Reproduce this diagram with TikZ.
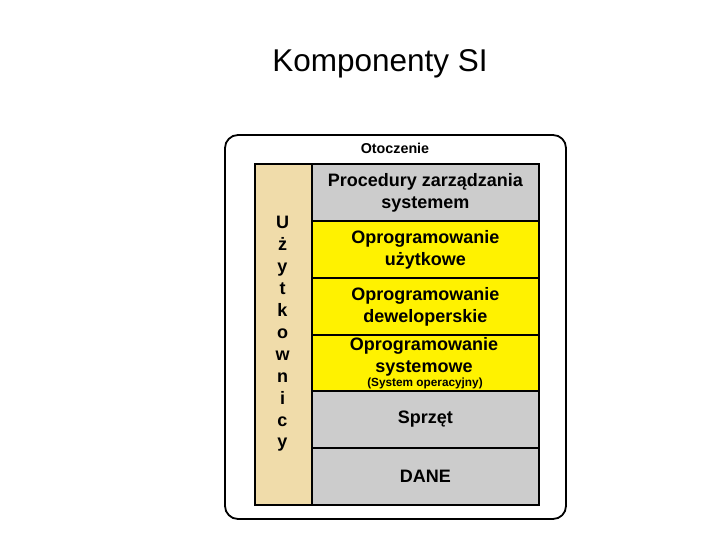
\documentclass[tikz,border=0pt]{standalone}
\usepackage{fontspec}
\setmainfont{Liberation Sans}
\begin{document}
\begin{tikzpicture}[x=1pt,y=-1pt,
  cell/.style={draw=black,line width=1.8pt,minimum width=227pt,minimum height=57pt,anchor=north west,inner sep=0pt,align=center,font=\bfseries\fontsize{18}{22}\selectfont},
  grey/.style={fill=black!20},
  yel/.style={fill=yellow}]
\useasboundingbox (0,0) rectangle (720,540);
\node[font=\fontsize{31.5}{34}\selectfont] (title) at (380,64) {Komponenty SI};
\draw[line width=1.8pt,rounded corners=13pt] (225,135) rectangle (566,519);
\node[font=\bfseries\fontsize{14.3}{16}\selectfont] (env) at (395,148) {Otoczenie};
\node[cell,grey] (proc) at (311,163) {Procedury zarządzania\\systemem};
\node[cell,yel] (uzyt) at (311,220) {Oprogramowanie\\użytkowe};
\node[cell,yel] (dev) at (311,277) {Oprogramowanie\\deweloperskie};
\node[cell,yel,minimum height=56pt] (sys) at (311,334) {};
\node[font=\bfseries\fontsize{18}{22}\selectfont,align=center] (syst) at (424,357) {Oprogramowanie\\systemowe};
\node[font=\bfseries\fontsize{11.8}{12}\selectfont] (os) at (425,383.5) {(System operacyjny)};
\node[cell,grey] (hw) at (311,390) {Sprzęt};
\node[cell,grey] (data) at (311,447) {DANE};
\node[draw=black,line width=1.8pt,fill={rgb,255:red,240;green,220;blue,170},minimum width=57pt,minimum height=341pt,anchor=north west,inner sep=0pt] (users) at (254,163) {};
\node[font=\bfseries\fontsize{18}{21.9}\selectfont,align=center,anchor=north] (ulab) at (282.5,213) {U\\ż\\y\\t\\k\\o\\w\\n\\i\\c\\y};
\end{tikzpicture}
\end{document}
